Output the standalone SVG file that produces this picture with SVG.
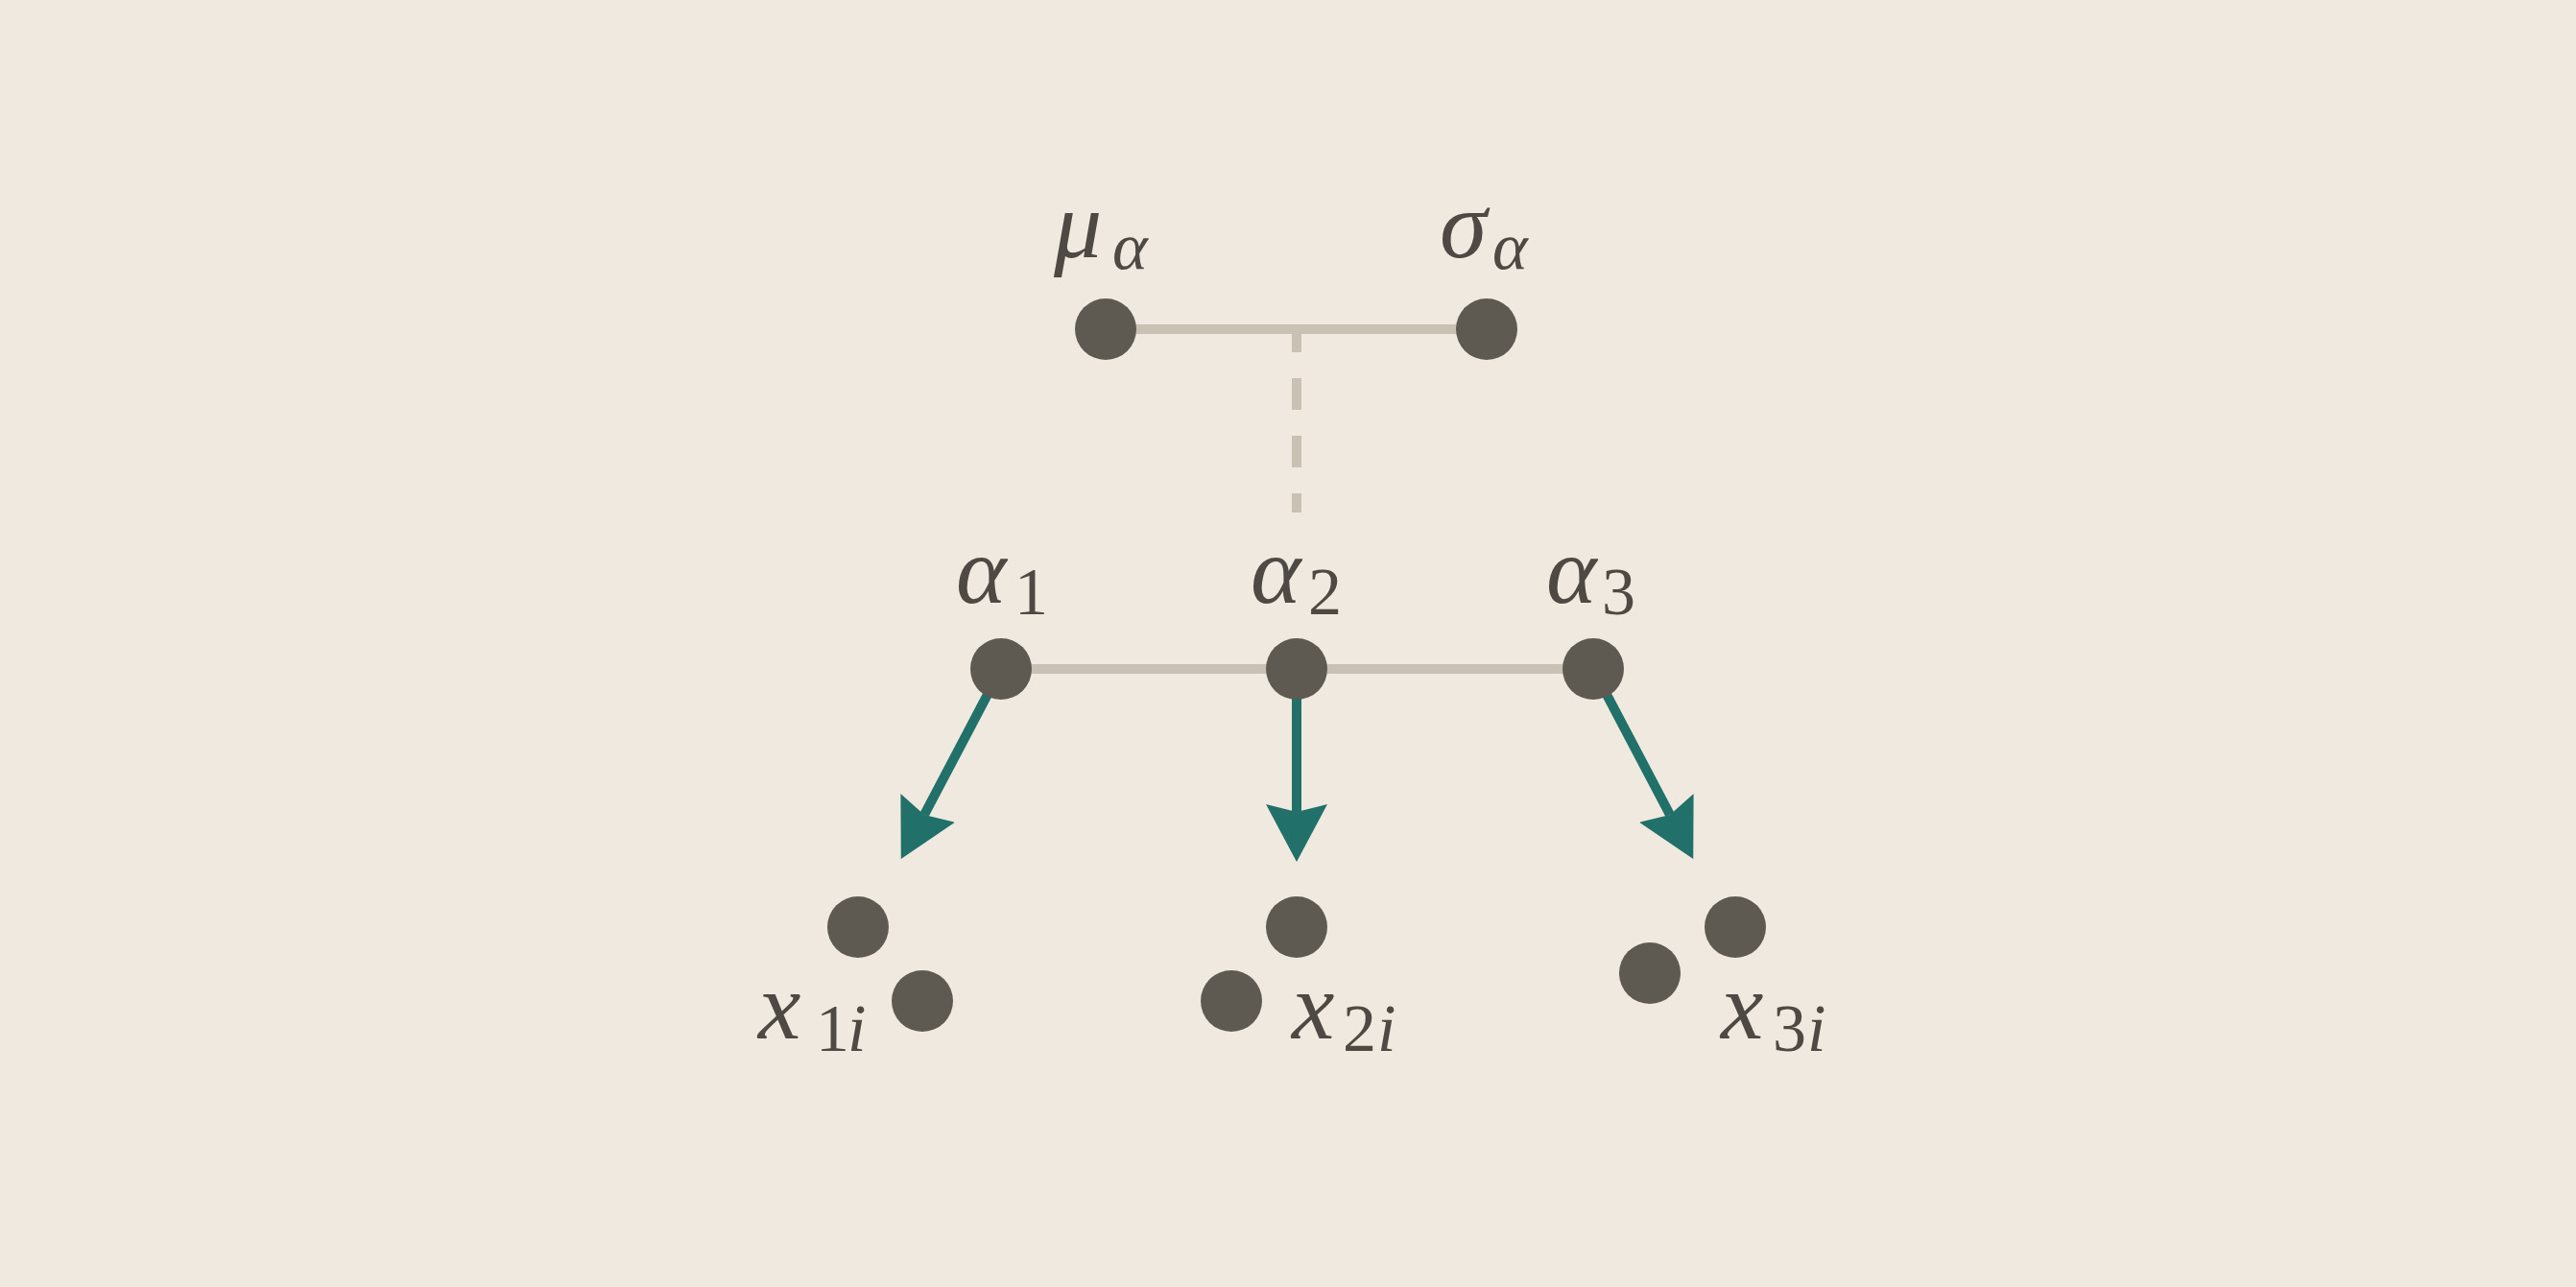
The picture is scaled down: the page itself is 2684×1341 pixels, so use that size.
<svg xmlns="http://www.w3.org/2000/svg" width="2684" height="1341" viewBox="0 0 2684 1341">
<style>
.bg{fill:#efe9df}
.node{fill:#5e5a52}
.link{stroke:#c9c1b4;stroke-width:10;fill:none}
.dash{stroke:#c9c1b4;stroke-width:10;fill:none;stroke-dasharray:33 27;stroke-dashoffset:9}
.arrow{stroke:#21706a;stroke-width:10;fill:none;marker-end:url(#ah)}
.lbl{font-family:"Liberation Serif","Times New Roman",serif;fill:#4e4a43}
.it{font-style:italic}
.m{font-size:100px}
.s{font-size:70px}
</style>
<defs>
<marker id="ah" markerUnits="userSpaceOnUse" viewBox="0 -32 60 64" markerWidth="60" markerHeight="64" refX="8" refY="0" orient="auto">
<path d="M60,0 L0,-32 L8,0 L0,32 Z" fill="#21706a"/>
</marker>
</defs>
<rect class="bg" x="0" y="0" width="2684" height="1341"/>
<g id="connectors">
<line class="link" x1="1152" y1="343" x2="1549" y2="343"/>
<line class="dash" x1="1351" y1="343" x2="1351" y2="534"/>
<line class="link" x1="1043" y1="697" x2="1660" y2="697"/>
<line class="arrow" x1="1043" y1="697" x2="963" y2="849"/>
<line class="arrow" x1="1351" y1="697" x2="1351" y2="846"/>
<line class="arrow" x1="1660" y1="697" x2="1740" y2="849"/>
</g>
<g id="mu_alpha">
<circle class="node" cx="1152" cy="343" r="32"/>
<text class="lbl"><tspan class="it m" x="1098" y="268">μ</tspan><tspan class="it s" x="1159" y="280">α</tspan></text>
</g>
<g id="sigma_alpha">
<circle class="node" cx="1549" cy="343" r="32"/>
<text class="lbl"><tspan class="it m" x="1500" y="268">σ</tspan><tspan class="it s" x="1555" y="280">α</tspan></text>
</g>
<g id="alpha1">
<circle class="node" cx="1043" cy="697" r="32"/>
<text class="lbl"><tspan class="it m" x="996" y="628">α</tspan><tspan class="s" x="1057" y="640">1</tspan></text>
</g>
<g id="alpha2">
<circle class="node" cx="1351" cy="697" r="32"/>
<text class="lbl"><tspan class="it m" x="1303" y="628">α</tspan><tspan class="s" x="1363" y="640">2</tspan></text>
</g>
<g id="alpha3">
<circle class="node" cx="1660" cy="697" r="32"/>
<text class="lbl"><tspan class="it m" x="1611" y="628">α</tspan><tspan class="s" x="1669" y="640">3</tspan></text>
</g>
<g id="x1i">
<circle class="node" cx="894" cy="966" r="32"/>
<circle class="node" cx="961" cy="1043" r="32"/>
<text class="lbl"><tspan class="it m" x="790" y="1082">x</tspan><tspan class="s" x="850" y="1095">1</tspan><tspan class="it s" x="883" y="1095">i</tspan></text>
</g>
<g id="x2i">
<circle class="node" cx="1351" cy="966" r="32"/>
<circle class="node" cx="1283" cy="1043" r="32"/>
<text class="lbl"><tspan class="it m" x="1346" y="1082">x</tspan><tspan class="s" x="1399" y="1095">2</tspan><tspan class="it s" x="1435" y="1095">i</tspan></text>
</g>
<g id="x3i">
<circle class="node" cx="1808" cy="966" r="32"/>
<circle class="node" cx="1719" cy="1014" r="32"/>
<text class="lbl"><tspan class="it m" x="1793" y="1082">x</tspan><tspan class="s" x="1847" y="1095">3</tspan><tspan class="it s" x="1883" y="1095">i</tspan></text>
</g>
</svg>
